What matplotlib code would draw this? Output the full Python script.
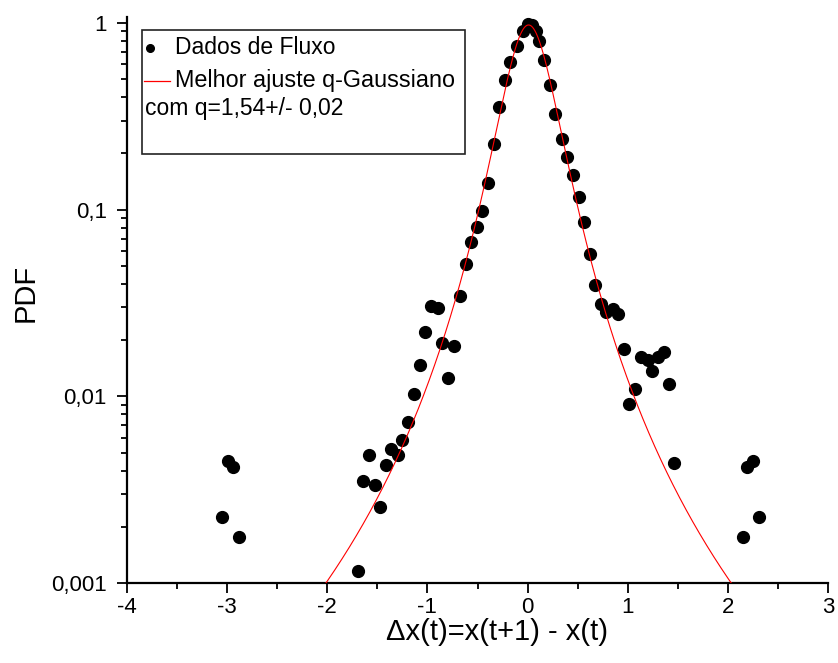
import numpy as np
import matplotlib
matplotlib.use("Agg")
import matplotlib.pyplot as plt
from matplotlib.ticker import LogLocator, MultipleLocator, NullFormatter
from matplotlib.patches import Rectangle

plt.rcParams['font.family'] = ['Liberation Sans', 'DejaVu Sans']

# ---- data ----
dx = [-3.054, -2.994, -2.938, -2.881,
      -1.692, -1.648, -1.585, -1.525, -1.476, -1.416, -1.359, -1.293, -1.249,
      -1.193, -1.134, -1.077, -1.020, -0.960, -0.894, -0.850, -0.795, -0.738,
      -0.671, -0.618, -0.565, -0.505, -0.456, -0.392, -0.339, -0.282, -0.226,
      -0.172, -0.107, -0.050, 0.000, 0.040, 0.080,
      0.110, 0.166, 0.222, 0.276, 0.339, 0.396, 0.452, 0.511, 0.565, 0.621,
      0.675, 0.735, 0.785, 0.850, 0.907, 0.959, 1.014, 1.077, 1.134, 1.199,
      1.241, 1.299, 1.358, 1.411, 1.466,
      2.147, 2.196, 2.253, 2.313]
pdf = [0.00225, 0.00452, 0.00417, 0.00177,
       0.00116, 0.00352, 0.00485, 0.00335, 0.00256, 0.00429, 0.0052, 0.00485, 0.00583,
       0.00731, 0.0103, 0.0148, 0.0222, 0.0305, 0.0296, 0.0194, 0.0125, 0.0186,
       0.0343, 0.0512, 0.0673, 0.0803, 0.0986, 0.138, 0.224, 0.356, 0.494,
       0.619, 0.751, 0.91, 0.99, 0.97, 0.90,
       0.80, 0.632, 0.463, 0.324, 0.238, 0.192, 0.153, 0.117, 0.0861, 0.0576,
       0.0396, 0.0313, 0.0283, 0.0292, 0.0275, 0.0179, 0.00912, 0.0109, 0.0162, 0.0156,
       0.0137, 0.0163, 0.0173, 0.0117, 0.00440,
       0.00177, 0.00417, 0.00452, 0.00225]

# q-Gaussian fit parameters
q_fit = 1.54
amp_fit = 0.975
beta_fit = 18.15
xc_fit = 0.01

xtick_vals = [-4, -3, -2, -1, 0, 1, 2, 3]
xtick_labels = ['-4', '-3', '-2', '-1', '0', '1', '2', '3']
ytick_vals = [0.001, 0.01, 0.1, 1]
ytick_labels = ['0,001', '0,01', '0,1', '1']

# ---- figure ----
W, H = 838, 663
fig = plt.figure(figsize=(W / 100, H / 100), dpi=100)
L, R, T, B = 127, 828, 17, 583
ax = fig.add_axes([L / W, 1 - B / H, (R - L) / W, (B - T) / H])

def px2ax(px, py):
    return (px - L) / (R - L), (B - py) / (B - T)

ax.plot(dx, pdf, 'o', color='black', markersize=8.5, linestyle='none', zorder=3)

xf = np.linspace(-2.4, 2.4, 800)
yf = amp_fit * (1 - (1 - q_fit) * beta_fit * (xf - xc_fit) ** 2) ** (1 / (1 - q_fit))
ax.plot(xf, yf, color='red', linewidth=0.8, zorder=4)

ax.set_yscale('log')
ax.set_xlim(-4, 3)
ax.set_ylim(0.001, 1.0755)

ax.set_xticks(xtick_vals)
ax.set_xticklabels(xtick_labels)
ax.xaxis.set_minor_locator(MultipleLocator(0.5))
ax.set_yticks(ytick_vals)
ax.set_yticklabels(ytick_labels)
ax.yaxis.set_minor_locator(LogLocator(base=10, subs=np.arange(2, 10)))
ax.yaxis.set_minor_formatter(NullFormatter())

for s in ['top', 'right']:
    ax.spines[s].set_visible(False)
for s in ['left', 'bottom']:
    ax.spines[s].set_linewidth(1.6)
ax.tick_params(which='major', direction='out', length=7, width=1.3, labelsize=16)
ax.tick_params(axis='x', which='major', pad=3)
ax.tick_params(axis='y', which='major', pad=7.5)
ax.tick_params(which='minor', direction='out', length=4, width=1.3)

ax.set_xlabel('Δx(t)=x(t+1) - x(t)', fontsize=21)
ax.xaxis.set_label_coords(*px2ax(497, 618))
ax.set_ylabel('PDF', fontsize=21)
ax.yaxis.set_label_coords(*px2ax(40, 293))

# legend box (manual)
x0, y1 = px2ax(142, 30)
x1, y0 = px2ax(465, 154)
ax.add_patch(Rectangle((x0, y0), x1 - x0, y1 - y0, transform=ax.transAxes,
                       fill=False, edgecolor='#222222', linewidth=1.2, clip_on=False, zorder=5))
mx, my = px2ax(150, 48)
ax.plot([mx], [my], 'o', color='black', markersize=5.5, transform=ax.transAxes, clip_on=False, zorder=6)
lx0, ly = px2ax(144, 81)
lx1, _ = px2ax(170, 81)
ax.plot([lx0, lx1], [ly, ly], color='red', linewidth=0.9, transform=ax.transAxes, clip_on=False, zorder=6)
tx, ty = px2ax(175, 48)
ax.text(tx, ty, 'Dados de Fluxo', transform=ax.transAxes, fontsize=16.5, va='center', ha='left')
tx, ty = px2ax(175, 81)
ax.text(tx, ty, 'Melhor ajuste q-Gaussiano', transform=ax.transAxes, fontsize=16.8, va='center', ha='left')
tx, ty = px2ax(145, 109)
ax.text(tx, ty, 'com q=1,54+/- 0,02', transform=ax.transAxes, fontsize=16.5, va='center', ha='left')

fig.savefig('out.png', dpi=100)
